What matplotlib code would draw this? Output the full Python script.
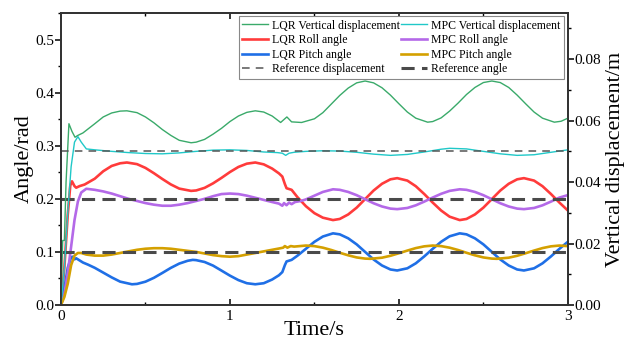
import matplotlib
matplotlib.use("Agg")
import matplotlib.pyplot as plt
from matplotlib.ticker import MultipleLocator

plt.rcParams['font.family'] = ['Liberation Serif', 'DejaVu Serif']

# values
# LQR vertical displacement (m, right axis)
t_lqr_z = [0, 0.01, 0.02, 0.03, 0.047, 0.065, 0.083, 0.1, 0.13, 0.2, 0.25, 0.3, 0.35, 0.39, 0.45,
           0.5, 0.55, 0.6, 0.65, 0.7, 0.77, 0.8, 0.85, 0.9, 0.95, 1.0, 1.05, 1.1, 1.15, 1.2,
           1.25, 1.3, 1.337, 1.365, 1.424, 1.5, 1.55, 1.6, 1.65, 1.7, 1.75, 1.8, 1.85, 1.9, 1.95,
           2.0, 2.05, 2.1, 2.17, 2.2, 2.25, 2.3, 2.35, 2.4, 2.45, 2.5, 2.55, 2.6, 2.65, 2.7,
           2.75, 2.8, 2.85, 2.92, 2.96, 3.0]
z_lqr = [0, 0.021, 0.021, 0.04, 0.059, 0.0565, 0.0546, 0.0552, 0.056, 0.059, 0.0612, 0.0625, 0.0631, 0.0632, 0.0626,
         0.0612, 0.0593, 0.0571, 0.0552, 0.0536, 0.0528, 0.0530, 0.0539, 0.0556, 0.0575, 0.0597, 0.0615, 0.0627, 0.0632, 0.0628,
         0.0615, 0.0594, 0.0612, 0.0596, 0.0594, 0.0606, 0.0626, 0.0654, 0.0682, 0.0706, 0.0723, 0.0729, 0.0723, 0.0707, 0.0683,
         0.0655, 0.0628, 0.0608, 0.0595, 0.0597, 0.0609, 0.0631, 0.0657, 0.0685, 0.0708, 0.0724, 0.0729, 0.0724, 0.0708, 0.0683,
         0.0655, 0.0628, 0.0608, 0.0595, 0.0598, 0.0608]

# MPC vertical displacement (m, right axis)
t_mpc_z = [0, 0.02, 0.04, 0.06, 0.08, 0.1, 0.12, 0.15, 0.2, 0.3, 0.4, 0.5, 0.6, 0.7, 0.8,
           0.9, 1.0, 1.1, 1.2, 1.28, 1.31, 1.33, 1.35, 1.38, 1.45, 1.55, 1.65, 1.75, 1.85, 1.95,
           2.05, 2.15, 2.25, 2.3, 2.4, 2.5, 2.6, 2.7, 2.8, 2.9, 3.0]
z_mpc = [0, 0.012, 0.03, 0.045, 0.053, 0.0548, 0.053, 0.0508, 0.0505, 0.0500, 0.0496, 0.0493, 0.0492, 0.0495, 0.0500,
         0.0504, 0.0505, 0.0503, 0.0498, 0.0496, 0.0494, 0.0487, 0.0494, 0.0497, 0.0500, 0.0502, 0.0501, 0.0497, 0.0491, 0.0487,
         0.0490, 0.0498, 0.0507, 0.0510, 0.0508, 0.0500, 0.0492, 0.0487, 0.0489, 0.0497, 0.0505]

# LQR roll angle (rad)
t_lqr_roll = [0, 0.02, 0.04, 0.055, 0.065, 0.08, 0.09, 0.11, 0.14, 0.2, 0.25, 0.3, 0.35, 0.39, 0.45,
              0.5, 0.55, 0.6, 0.65, 0.7, 0.77, 0.8, 0.85, 0.9, 0.95, 1.0, 1.05, 1.1, 1.15, 1.2,
              1.25, 1.29, 1.31, 1.325, 1.335, 1.365, 1.4, 1.45, 1.5, 1.55, 1.61, 1.65, 1.7, 1.75, 1.8,
              1.85, 1.9, 1.95, 1.99, 2.05, 2.1, 2.15, 2.2, 2.25, 2.3, 2.36, 2.4, 2.45, 2.5, 2.55,
              2.6, 2.65, 2.7, 2.74, 2.8, 2.85, 2.9, 2.95, 3.0]
roll_lqr = [0, 0.07, 0.17, 0.225, 0.233, 0.224, 0.221, 0.224, 0.227, 0.238, 0.252, 0.262, 0.267, 0.2685, 0.2654,
            0.2583, 0.2483, 0.2374, 0.2272, 0.2193, 0.215, 0.2158, 0.2207, 0.2292, 0.2395, 0.2505, 0.2601, 0.2663, 0.2685, 0.2650,
            0.2570, 0.2480, 0.2420, 0.228, 0.220, 0.217, 0.203, 0.186, 0.173, 0.1645, 0.160, 0.1621, 0.1706, 0.1834, 0.1995,
            0.2156, 0.2284, 0.2368, 0.239, 0.2344, 0.2238, 0.2091, 0.1930, 0.1780, 0.1664, 0.160, 0.1621, 0.1706, 0.1834, 0.1995,
            0.2156, 0.2284, 0.2368, 0.239, 0.2344, 0.2238, 0.2091, 0.1930, 0.1780]

# MPC roll angle (rad)
t_mpc_roll = [0, 0.02, 0.04, 0.06, 0.08, 0.1, 0.12, 0.15, 0.2, 0.25, 0.3, 0.35, 0.4, 0.45, 0.5,
              0.55, 0.6, 0.65, 0.7, 0.75, 0.8, 0.85, 0.9, 0.95, 1.0, 1.05, 1.1, 1.15, 1.2, 1.25,
              1.29, 1.31, 1.32, 1.335, 1.35, 1.365, 1.385, 1.42, 1.45, 1.5, 1.55, 1.61, 1.65, 1.7, 1.75,
              1.8, 1.85, 1.9, 1.95, 1.99, 2.05, 2.1, 2.15, 2.2, 2.25, 2.3, 2.36, 2.4, 2.45, 2.5,
              2.55, 2.6, 2.65, 2.7, 2.74, 2.8, 2.85, 2.9, 2.95, 3.0]
roll_mpc = [0, 0.02, 0.06, 0.11, 0.16, 0.195, 0.212, 0.219, 0.217, 0.214, 0.210, 0.205, 0.200, 0.196, 0.192,
            0.189, 0.187, 0.187, 0.189, 0.192, 0.196, 0.200, 0.205, 0.209, 0.210, 0.209, 0.206, 0.202, 0.198, 0.194,
            0.191, 0.187, 0.192, 0.188, 0.193, 0.190, 0.194, 0.196, 0.199, 0.206, 0.213, 0.218, 0.217, 0.213, 0.2069,
            0.1993, 0.1917, 0.1856, 0.1816, 0.1806, 0.1828, 0.1878, 0.1948, 0.2024, 0.2095, 0.215, 0.218, 0.217, 0.213, 0.2069,
            0.1993, 0.1917, 0.1856, 0.1816, 0.1806, 0.1828, 0.1878, 0.1948, 0.2024, 0.207]

# LQR pitch angle (rad)
t_lqr_pitch = [0, 0.02, 0.04, 0.06, 0.07, 0.08, 0.09, 0.1, 0.13, 0.16, 0.2, 0.25, 0.3, 0.35, 0.42,
               0.45, 0.5, 0.55, 0.6, 0.65, 0.7, 0.75, 0.78, 0.8, 0.85, 0.9, 0.95, 1.0, 1.05, 1.1,
               1.15, 1.2, 1.25, 1.29, 1.31, 1.325, 1.335, 1.365, 1.4, 1.45, 1.5, 1.55, 1.61, 1.65, 1.7,
               1.75, 1.8, 1.85, 1.9, 1.95, 1.99, 2.05, 2.1, 2.15, 2.2, 2.25, 2.3, 2.36, 2.4, 2.45,
               2.5, 2.55, 2.6, 2.65, 2.7, 2.74, 2.8, 2.85, 2.9, 2.95, 3.0]
pitch_lqr = [0, 0.03, 0.07, 0.09, 0.091, 0.086, 0.088, 0.086, 0.08, 0.076, 0.07, 0.061, 0.052, 0.044, 0.039,
             0.0397, 0.0439, 0.0512, 0.0604, 0.0699, 0.078, 0.0833, 0.085, 0.0845, 0.081, 0.0742, 0.0648, 0.0553, 0.0469, 0.041,
             0.039, 0.041, 0.048, 0.056, 0.062, 0.075, 0.082, 0.085, 0.093, 0.106, 0.119, 0.129, 0.135, 0.1331, 0.1256,
             0.1142, 0.1, 0.0858, 0.0744, 0.0669, 0.065, 0.0691, 0.0785, 0.0915, 0.1058, 0.1191, 0.1294, 0.135, 0.1331, 0.1256,
             0.1142, 0.1, 0.0858, 0.0744, 0.0669, 0.065, 0.0691, 0.0785, 0.0915, 0.1058, 0.1191]

# MPC pitch angle (rad)
t_mpc_pitch = [0, 0.02, 0.04, 0.06, 0.08, 0.1, 0.12, 0.15, 0.2, 0.25, 0.3, 0.35, 0.4, 0.45, 0.5,
               0.55, 0.6, 0.65, 0.7, 0.75, 0.8, 0.85, 0.9, 0.95, 1.0, 1.05, 1.1, 1.15, 1.2, 1.25,
               1.3, 1.315, 1.325, 1.34, 1.36, 1.38, 1.45, 1.5, 1.55, 1.6, 1.65, 1.7, 1.75, 1.8, 1.83,
               1.9, 1.95, 2.0, 2.05, 2.1, 2.15, 2.2, 2.25, 2.3, 2.35, 2.4, 2.45, 2.5, 2.55, 2.58,
               2.65, 2.7, 2.75, 2.8, 2.85, 2.9, 2.95, 3.0]
pitch_mpc = [0, 0.015, 0.04, 0.075, 0.093, 0.098, 0.098, 0.095, 0.093, 0.093, 0.095, 0.098, 0.101, 0.104, 0.106,
             0.107, 0.107, 0.106, 0.104, 0.102, 0.100, 0.097, 0.094, 0.092, 0.091, 0.092, 0.095, 0.098, 0.101, 0.104,
             0.107, 0.108, 0.111, 0.108, 0.111, 0.110, 0.112, 0.1109, 0.108, 0.1036, 0.0984, 0.0936, 0.0896, 0.0874, 0.087,
             0.0891, 0.0927, 0.0975, 0.1025, 0.1072, 0.1105, 0.112, 0.1109, 0.108, 0.1036, 0.0984, 0.0936, 0.0896, 0.0874, 0.087,
             0.0891, 0.0927, 0.0975, 0.1025, 0.1072, 0.1105, 0.112, 0.1109]

ref_disp = 0.05
ref_angles = [0.1, 0.2]
t_range = [0, 3]

fig = plt.figure(figsize=(6.32, 3.45), dpi=100)
ax1 = fig.add_axes([0.0965, 0.116, 0.802, 0.846])
ax2 = ax1.twinx()

# angles on the left axis
l_roll, = ax1.plot(t_lqr_roll, roll_lqr, color='#ff3b3b', lw=1.9, label='LQR Roll angle')
l_pitch, = ax1.plot(t_lqr_pitch, pitch_lqr, color='#1f6fe6', lw=1.9, label='LQR Pitch angle')
m_roll, = ax1.plot(t_mpc_roll, roll_mpc, color='#b469e8', lw=1.9, label='MPC Roll angle')
m_pitch, = ax1.plot(t_mpc_pitch, pitch_mpc, color='#d4a000', lw=1.9, label='MPC Pitch angle')
for r in ref_angles:
    ref_a, = ax1.plot(t_range, [r, r], color='#4a4a4a', lw=2.2, dashes=(4.3, 2.4),
                      label='Reference angle')

# displacement on the right axis
l_z, = ax2.plot(t_lqr_z, z_lqr, color='#3aaa6a', lw=1.0, label='LQR Vertical displacement')
m_z, = ax2.plot(t_mpc_z, z_mpc, color='#20c8c8', lw=1.0, label='MPC Vertical displacement')
ref_d, = ax2.plot(t_range, [ref_disp, ref_disp], color='#555555', lw=1.1, dashes=(5, 4),
                  label='Reference displacement')

ax1.set_xlim(0, 3)
ax1.set_ylim(0, 0.55)
ax2.set_ylim(0, 0.095)

ax1.xaxis.set_major_locator(MultipleLocator(1))
ax1.xaxis.set_minor_locator(MultipleLocator(0.5))
ax1.yaxis.set_major_locator(MultipleLocator(0.1))
ax1.yaxis.set_minor_locator(MultipleLocator(0.05))
ax2.yaxis.set_major_locator(MultipleLocator(0.02))
ax2.yaxis.set_minor_locator(MultipleLocator(0.01))
ax1.yaxis.set_major_formatter(plt.FormatStrFormatter('%.1f'))
ax2.yaxis.set_major_formatter(plt.FormatStrFormatter('%.2f'))

ax1.tick_params(axis='x', which='both', direction='in', top=True, labelsize=11)
ax1.tick_params(axis='x', which='major', length=4, width=1.1)
ax1.tick_params(axis='x', which='minor', length=2.5, width=1.0)
ax1.tick_params(axis='y', which='major', direction='out', length=4, width=1.1, labelsize=11, pad=1)
ax1.tick_params(axis='y', which='minor', direction='out', length=2.5, width=1.0)
ax2.tick_params(axis='y', which='major', direction='out', length=4, width=1.1, labelsize=11, pad=1)
ax2.tick_params(axis='y', which='minor', direction='out', length=2.5, width=1.0)
for ax in (ax1, ax2):
    for s in ax.spines.values():
        s.set_linewidth(1.3)
        s.set_color('#333333')

ax1.set_xlabel('Time/s', fontsize=16, labelpad=-1)
ax1.set_ylabel('Angle/rad', fontsize=16, labelpad=1)
ax2.set_ylabel('Vertical displacement/m', fontsize=16, labelpad=3)

handles = [l_z, l_roll, l_pitch, ref_d, m_z, m_roll, m_pitch, ref_a]
leg = ax2.legend(handles=handles, ncol=2, loc='upper right', bbox_to_anchor=(0.992, 0.99),
                 borderaxespad=0, fontsize=8.5, fancybox=False, framealpha=1, edgecolor='#888888',
                 labelspacing=0.22, columnspacing=0.15, handletextpad=0.3, handlelength=2.2,
                 borderpad=0.3)
leg.get_frame().set_linewidth(0.8)

fig.savefig('out.png', dpi=100)
